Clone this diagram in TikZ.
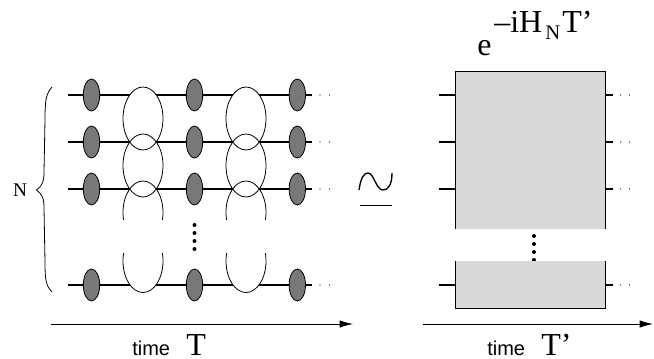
\documentclass[tikz,border=0pt]{standalone}
\usepackage{fontspec}
\setmainfont{Liberation Serif}
\setsansfont{Liberation Sans}
\usetikzlibrary{arrows.meta}
\definecolor{oscgray}{gray}{0.47}
\definecolor{boxg}{gray}{0.85}
\tikzset{
  wire/.style={line width=1pt,black},
  loopline/.style={line width=0.6pt,black},
  osc/.style={draw=black,fill=oscgray,line width=0.6pt},
  axis/.style={line width=0.6pt,-{Latex[length=10pt,width=5.5pt]}},
  lab/.style={inner sep=0,anchor=base west},
  sanslab/.style={lab,font=\sffamily\fontsize{15pt}{15pt}\selectfont},
  bigserif/.style={lab,font=\fontsize{24pt}{24pt}\selectfont}
}
\begin{document}
\begin{tikzpicture}[x=0.75pt,y=-0.75pt]
\useasboundingbox (0,0) rectangle (654,358);
% wires left
\foreach \y in {95,142,189,285}{
  \draw[wire] (68,\y) -- (312,\y);
  \fill (320,\y) circle (0.45pt);
  \fill (329.5,\y) circle (0.45pt);
}
% loops
\foreach \x in {143,246}{
  \foreach \c in {118.5,165.5,212.5,261}{
    \fill[white] (\x,\c) ellipse (20 and 31.5);
  }
  \begin{scope}
    \clip (\x-30,70) rectangle (\x+30,220);
    \foreach \c in {118.5,165.5,212.5}{
      \draw[loopline] (\x,\c) ellipse (20 and 31.5);
    }
  \end{scope}
  \begin{scope}
    \clip (\x-30,253) rectangle (\x+30,310);
    \draw[loopline] (\x,261) ellipse (20 and 31.5);
  \end{scope}
  \fill[white] (\x-25,220) rectangle (\x+25,253);
}
% oscillators
\foreach \y in {95,142,189,285}{
  \foreach \x in {91.5,194.5,297.3}{
    \draw[osc] (\x,\y) ellipse (8.2 and 16);
  }
}
% dots left
\foreach \y in {225,233,241,249}{\fill (194.5,\y) circle (1.5pt);}
% brace
\draw[loopline] (52,87) .. controls (46,94) and (45,100) .. (45,120)
  -- (44,172) .. controls (44,182) and (42,186) .. (36.5,190)
  .. controls (42,194) and (44,198) .. (44,208)
  -- (45,262) .. controls (45,280) and (46,286) .. (52,292);
\node[inner sep=0,font=\fontsize{14.5pt}{14.5pt}\selectfont] (nlabel) at (20,190.5) {N};
% similar sign
\draw[line width=1pt] (359,190) .. controls (361,177) and (364,173) .. (368,173)
  .. controls (374,173) and (376,190) .. (383,190)
  .. controls (388,190) and (392,185) .. (392,173);
\draw[line width=1.1pt] (360,205.5) -- (392,205.5);
% box
\fill[boxg] (455,71) rectangle (605,308);
\draw[line width=0.6pt] (455,308) -- (455,71) -- (605,71) -- (605,308) -- cycle;
\fill[white] (450,229) rectangle (610,261);
\foreach \y in {236,244,252,260}{\fill (534,\y) circle (1.5pt);}
\fill[boxg] (456,261) rectangle (604,268);
\draw[line width=0.6pt] (455,261) -- (455,268);
\draw[line width=0.6pt] (605,261) -- (605,268);
\foreach \y in {95,142,189,285}{
  \draw[wire] (439,\y) -- (455,\y);
  \draw[wire] (605,\y) -- (613,\y);
  \fill (620.7,\y) circle (0.45pt);
  \fill (629.5,\y) circle (0.45pt);
}
% axes
\coordinate (t1s) at (51,324); \coordinate (t1e) at (353,324);
\coordinate (t2s) at (423,324); \coordinate (t2e) at (653,324);
\draw[axis] (t1s) -- (t1e);
\draw[axis] (t2s) -- (t2e);
\node[sanslab] (tl1) at (132,355) {time};
\node[bigserif] (tt1) at (186,355) {T};
\node[sanslab] (tl2) at (487,355) {time};
\node[bigserif] (tt2) at (541,355) {T’};
% exponential
\node[bigserif] (ee) at (477,55) {e};
\node[bigserif] (e1) at (494,32.5) {–iH};
\node[lab,font=\fontsize{15.5pt}{15.5pt}\selectfont] (e2) at (545,39) {N};
\node[bigserif] (e3) at (562,32.5) {T’};
\end{tikzpicture}
\end{document}
